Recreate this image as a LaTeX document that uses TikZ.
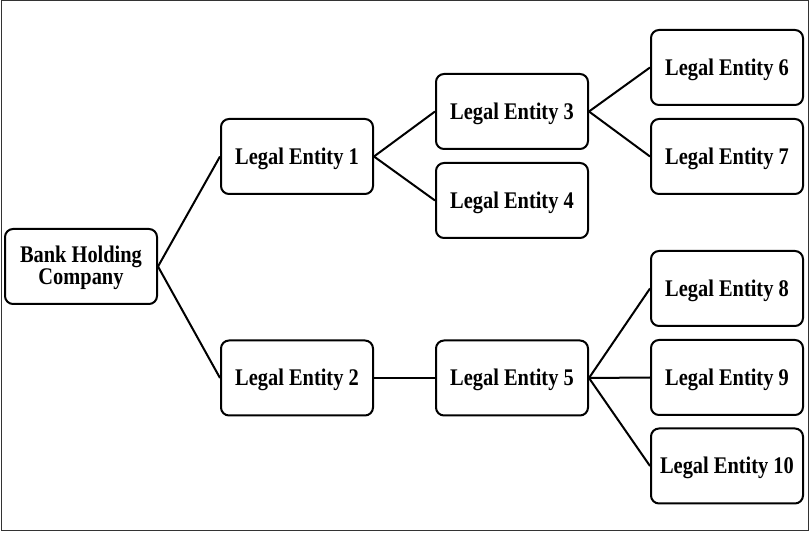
\documentclass[tikz,border=0pt]{standalone}
\usepackage{graphicx}
\usepackage{fontspec}
\setmainfont{Liberation Serif}
\newcommand{\vstretch}[1]{\raisebox{-1pt}[\height][\depth]{\scalebox{1}[1.17]{#1}}}
\begin{document}
\begin{tikzpicture}[x=0.5pt,y=-0.5pt,
  entity/.style={draw=black, line width=1pt, rounded corners=4pt, fill=white,
    minimum width=76pt, minimum height=37.5pt, inner sep=0pt, align=center,
    font=\fontsize{10.2pt}{9.4pt}\selectfont\bfseries},
  link/.style={draw=black, line width=1pt}]
\useasboundingbox (0,0) rectangle (810,534);
\draw[line width=0.5pt, draw=black!80] (1,1) rectangle (808,531);
\node[entity] (bhc) at (81,266.5) {\vstretch{\begin{tabular}{@{}c@{}}Bank Holding\\Company\end{tabular}}};
\node[entity] (le1) at (297,156.5) {\vstretch{Legal Entity 1}};
\node[entity] (le2) at (297,378) {\vstretch{Legal Entity 2}};
\node[entity] (le3) at (512,111.5) {\vstretch{Legal Entity 3}};
\node[entity] (le4) at (512,200.5) {\vstretch{Legal Entity 4}};
\node[entity] (le5) at (512,378) {\vstretch{Legal Entity 5}};
\node[entity] (le6) at (727,67.5) {\vstretch{Legal Entity 6}};
\node[entity] (le7) at (727,156.5) {\vstretch{Legal Entity 7}};
\node[entity] (le8) at (727,288.5) {\vstretch{Legal Entity 8}};
\node[entity] (le9) at (727,377.5) {\vstretch{Legal Entity 9}};
\node[entity] (le10) at (727,466) {\vstretch{Legal Entity 10}};
\draw[link] (bhc.east) -- (le1.west);
\draw[link] (bhc.east) -- (le2.west);
\draw[link] (le1.east) -- (le3.west);
\draw[link] (le1.east) -- (le4.west);
\draw[link] (le3.east) -- (le6.west);
\draw[link] (le3.east) -- (le7.west);
\draw[link] (le2.east) -- (le5.west);
\draw[link] (le5.east) -- (le8.west);
\draw[link] (le5.east) -- (le9.west);
\draw[link] (le5.east) -- (le10.west);
\end{tikzpicture}
\end{document}
